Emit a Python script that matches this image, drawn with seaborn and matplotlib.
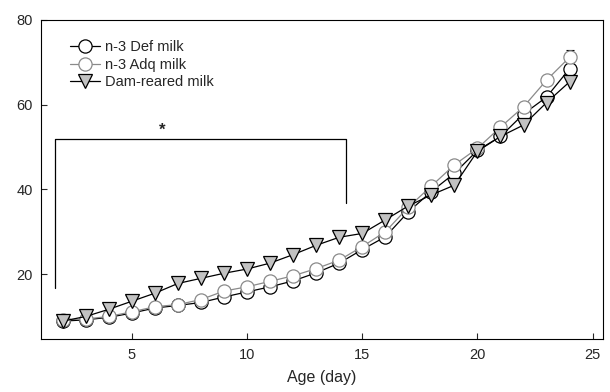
import matplotlib
matplotlib.use("Agg")
import matplotlib.pyplot as plt
import seaborn as sns
import pandas as pd
import numpy as np

days = list(range(2, 25))
def_milk = [8.9, 9.2, 9.8, 10.8, 12.0, 12.6, 13.3, 14.6, 15.8, 17.0, 18.4, 20.3,
            22.6, 25.8, 28.8, 34.7, 39.5, 43.8, 49.2, 52.5, 57.8, 61.8, 68.5]
adq_milk = [9.2, 9.4, 10.0, 11.1, 12.3, 12.8, 14.0, 16.0, 17.0, 18.3, 19.6, 21.3,
            23.3, 26.5, 30.0, 35.8, 40.8, 45.8, 49.7, 54.7, 59.5, 65.8, 71.2]
dam_milk = [8.9, 10.0, 11.7, 13.6, 15.5, 17.8, 19.0, 20.2, 21.2, 22.6, 24.6, 26.8,
            28.7, 29.6, 32.8, 36.1, 38.7, 41.0, 49.0, 52.5, 55.2, 60.5, 65.4]
adq_err_day = [24]
adq_err_val = [1.8]
series_names = ["n-3 Def milk", "n-3 Adq milk", "Dam-reared milk"]
x_ticks = [5, 10, 15, 20, 25]
y_ticks = [20, 40, 60, 80]
sig_label = "*"

sns.set_style("ticks")
plt.rcParams['font.family'] = ['Liberation Sans', 'DejaVu Sans']

fig = plt.figure(figsize=(6.10, 3.92), dpi=100)
ax = fig.add_axes([0.0672, 0.1344, 0.9213, 0.8146])

styles = [
    dict(data=def_milk, marker="o", mfc="white", mec="black", color="black"),
    dict(data=adq_milk, marker="o", mfc="white", mec="#8a8a8a", color="#8a8a8a"),
    dict(data=dam_milk, marker="v", mfc="#c2c2c2", mec="black", color="black"),
]
handles = []
for name, st in zip(series_names, styles):
    df = pd.DataFrame({"day": days, "val": st["data"]})
    sns.lineplot(data=df, x="day", y="val", ax=ax, color=st["color"], lw=0.9,
                 marker=st["marker"], markersize=9.5, markerfacecolor=st["mfc"],
                 markeredgecolor=st["mec"], markeredgewidth=0.9)
    h, = ax.plot([], [], color=st["color"], lw=0.9, marker=st["marker"], markersize=9.5,
                 markerfacecolor=st["mfc"], markeredgecolor=st["mec"], markeredgewidth=0.9)
    handles.append(h)

# error bar on Adq day 24
idx = days.index(adq_err_day[0])
ax.errorbar(adq_err_day, [adq_milk[idx]], yerr=adq_err_val, fmt="none",
            ecolor="black", elinewidth=0.8, capsize=3, capthick=0.8, zorder=1)

# significance bracket
ax.plot([1.65, 1.65, 14.3, 14.3], [16.7, 51.8, 51.8, 36.9], color="black", lw=0.9)
ax.text(6.3, 54.0, sig_label, ha="center", va="center", fontsize=12, fontweight="bold")

ax.set_xlim(1.05, 25.45)
ax.set_ylim(4.6, 80)
ax.set_xticks(x_ticks)
ax.set_yticks(y_ticks)
ax.tick_params(direction="in", length=4, width=0.8, labelsize=10.5, pad=6)
for s in ax.spines.values():
    s.set_visible(True)
    s.set_linewidth(0.8)
    s.set_color("black")
ax.set_xlabel("Age (day)", fontsize=11.5, labelpad=6)
ax.set_ylabel("")

leg = ax.legend(handles, series_names, loc="upper left", frameon=False,
                fontsize=10.5, handlelength=2.0, handletextpad=0.4,
                labelspacing=0.25, borderaxespad=0.0, bbox_to_anchor=(0.042, 0.955))

fig.savefig("out.png", dpi=100)
